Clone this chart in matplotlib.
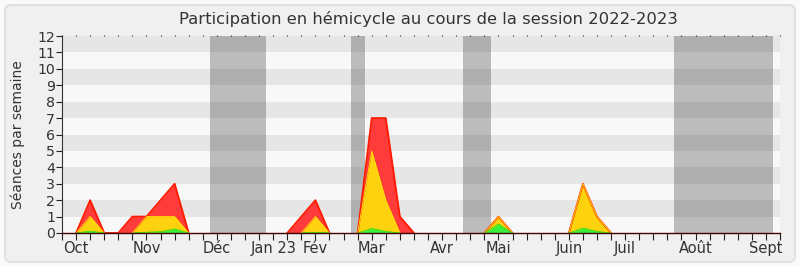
import numpy as np
import matplotlib
matplotlib.use("Agg")
import matplotlib.pyplot as plt
from matplotlib.patches import FancyBboxPatch
from matplotlib.transforms import IdentityTransform

# weekly counts over the session (week 0 = end of september 2022)
seances = [0, 0, 2, 0, 0, 1, 1, 2, 3, 0,
           0, 0, 0, 0, 0, 0, 0, 1, 2, 0,
           0, 0, 7, 7, 1, 0, 0, 0, 0, 0,
           0, 1, 0, 0, 0, 0, 0, 3, 1, 0,
           0, 0, 0, 0, 0, 0, 0, 0, 0, 0,
           0, 0]
presences = [0, 0, 1, 0, 0, 0, 1, 1, 1, 0,
             0, 0, 0, 0, 0, 0, 0, 0, 1, 0,
             0, 0, 5, 2, 0, 0, 0, 0, 0, 0,
             0, 1, 0, 0, 0, 0, 0, 3, 1, 0,
             0, 0, 0, 0, 0, 0, 0, 0, 0, 0,
             0, 0]
interventions = [0, 0, 0.12, 0, 0, 0, 0.05, 0.08, 0.25, 0,
                 0, 0, 0, 0, 0, 0, 0, 0, 0.05, 0,
                 0, 0, 0.28, 0.1, 0, 0, 0, 0, 0, 0,
                 0, 0.55, 0, 0, 0, 0, 0, 0.3, 0.1, 0,
                 0, 0, 0, 0, 0, 0, 0, 0, 0, 0,
                 0, 0]

# parliamentary holidays, in weeks
vacances = [(10.5, 14.5), (20.5, 21.5), (28.5, 30.5), (43.5, 50.5)]

mois_pos = [1, 6, 11, 15, 18, 22, 27, 31, 36, 40, 45, 50]
mois_lab = ['Oct', 'Nov', 'Déc', 'Jan 23', 'Fév', 'Mar', 'Avr', 'Mai',
            'Juin', 'Juil', 'Août', 'Sept']

semaines = np.arange(len(seances))


def contour(vals):
    # keep only the points that belong to a bump, so nothing runs along zero
    v = np.asarray(vals, dtype=float)
    nz = v > 0
    keep = nz | np.r_[nz[1:], False] | np.r_[False, nz[:-1]]
    return np.ma.masked_where(~keep, v)


plt.rcParams['font.family'] = ['DejaVu Sans']

fig = plt.figure(figsize=(8, 2.67), dpi=100, facecolor='#fafafa')
fig.add_artist(FancyBboxPatch((5, 5), 790, 257, boxstyle='round,pad=0,rounding_size=6',
                              transform=IdentityTransform(), facecolor='#f0f0f0',
                              edgecolor='#dcdcdc', linewidth=1.2, zorder=0))

ax = fig.add_axes([62 / 800, 34 / 267, 718 / 800, 197 / 267])
ax.set_facecolor('#f8f8f8')

# horizontal stripes
for y in range(1, 12, 2):
    ax.axhspan(y, y + 1, color='#e6e6e6', lw=0, zorder=0)

for a, b in vacances:
    ax.axvspan(a, b, color='black', alpha=0.24, lw=0, zorder=1)

ax.fill_between(semaines, seances, color='#ff3b3b', lw=0, zorder=2)
ax.fill_between(semaines, presences, color='#ffd20f', lw=0, zorder=3)
ax.plot(semaines, contour(seances), color='#ff1a00', lw=1.3, zorder=3.5)
ax.plot(semaines, contour(presences), color='#ffe600', lw=0.6, zorder=3.6)
ax.fill_between(semaines, interventions, color='#3aee3a', lw=0, zorder=4)
ax.plot(semaines, contour(interventions), color='#10e010', lw=0.5, zorder=4)

ax.set_xlim(0, len(seances) - 1)
ax.set_ylim(0, 12)
ax.set_yticks(range(13))

ax.set_xticks(mois_pos)
ax.set_xticklabels(mois_lab)
ax.set_xticks(semaines, minor=True)
ax.tick_params(axis='x', which='both', direction='out', length=5, width=0.8,
               color='#222222', top=True, labelsize=10.5, labelcolor='#333333', pad=1)
ax.tick_params(axis='y', direction='out', length=4, width=0.8, color='#222222',
               labelsize=10.2, labelcolor='#333333', pad=1)

for side in ('top', 'right'):
    ax.spines[side].set_visible(False)
ax.spines['left'].set_color('#333333')
ax.spines['bottom'].set_color('#400000')
ax.spines['bottom'].set_linewidth(1.0)
ax.spines['bottom'].set_zorder(5)

# the top ticks are only small dots
for t in ax.xaxis.get_major_ticks() + ax.xaxis.get_minor_ticks():
    t.tick2line.set_markersize(0.8)
    t.tick2line.set_markeredgewidth(0.9)

ax.set_ylabel('Séances par semaine', fontsize=10, color='#333333')
ax.yaxis.set_label_coords((25 - 62) / 718, 0.5)
fig.text(428 / 800, 1 - 19 / 267, 'Participation en hémicycle au cours de la session 2022-2023',
         ha='center', va='center', fontsize=11.8, color='#333333')

fig.savefig('out.png', dpi=100, facecolor=fig.get_facecolor())
